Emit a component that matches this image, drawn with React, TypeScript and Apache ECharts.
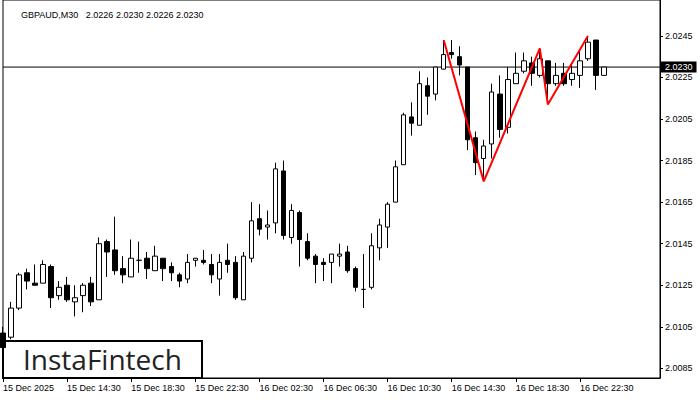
import React, { useEffect, useRef } from "react";
import * as echarts from "echarts";

const pad = (n: number) => String(n).padStart(2, "0");
// 30-minute bars starting 15 Dec 10:30 (76 bars plus 7 empty slots on the right)
const categories: string[] = [];
for (let i = 0; i < 83; i++) {
  const m = 10 * 60 + 30 + i * 30;
  const day = 15 + Math.floor(m / 1440);
  const mm = m % 1440;
  categories.push(`${day} Dec ${pad(Math.floor(mm / 60))}:${pad(mm % 60)}`);
}

const tickLabels = [
  "15 Dec 2025", "15 Dec 14:30", "15 Dec 18:30", "15 Dec 22:30", "16 Dec 02:30",
  "16 Dec 06:30", "16 Dec 10:30", "16 Dec 14:30", "16 Dec 18:30", "16 Dec 22:30",
];

const priceTicks = [2.0085, 2.0105, 2.0125, 2.0145, 2.0165, 2.0185, 2.0205, 2.0225, 2.0245];

const opens = [
  2.0102, 2.0100, 2.0114, 2.0131, 2.0126, 2.0126, 2.0134, 2.0120, 2.0125, 2.0117,
  2.0120, 2.0126, 2.0118, 2.0146, 2.0142, 2.0133, 2.0129, 2.0137, 2.0138, 2.0132,
  2.0138, 2.0134, 2.0130, 2.0128, 2.0137, 2.0137, 2.0135, 2.0128, 2.0137, 2.0136,
  2.0118, 2.0138, 2.0157, 2.0153, 2.0155, 2.0180, 2.0148, 2.0160, 2.0146, 2.0139,
  2.0136, 2.0136, 2.0139, 2.0141, 2.0133, 2.0123, 2.0124, 2.0143, 2.0153, 2.0165,
  2.0183, 2.0206, 2.0202, 2.0221, 2.0217, 2.0229, 2.0237, 2.0235, 2.0230, 2.0196,
  2.0186, 2.0193, 2.0217, 2.0201, 2.0222, 2.0228, 2.0232, 2.0226, 2.0233, 2.0222,
  2.0227, 2.0224, 2.0226, 2.0234, 2.0243, 2.0226,
];
const closes = [
  2.0095, 2.0114, 2.0130, 2.0127, 2.0125, 2.0135, 2.0119, 2.0124, 2.0118, 2.0119,
  2.0125, 2.0117, 2.0145, 2.0141, 2.0132, 2.0130, 2.0138, 2.0137, 2.0133, 2.0139,
  2.0133, 2.0131, 2.0127, 2.0136, 2.0138, 2.0136, 2.0130, 2.0136, 2.0135, 2.0119,
  2.0139, 2.0156, 2.0152, 2.0154, 2.0181, 2.0149, 2.0161, 2.0147, 2.0138, 2.0135,
  2.0135, 2.0140, 2.0140, 2.0132, 2.0124, 2.0123, 2.0144, 2.0154, 2.0164, 2.0182,
  2.0207, 2.0203, 2.0222, 2.0216, 2.0230, 2.0236, 2.0236, 2.0231, 2.0195, 2.0184,
  2.0192, 2.0218, 2.0200, 2.0224, 2.0227, 2.0233, 2.0227, 2.0234, 2.0222, 2.0226,
  2.0222, 2.0227, 2.0233, 2.0242, 2.0226, 2.0230,
];
const lows = [
  2.0093, 2.0099, 2.0113, 2.0123, 2.0125, 2.0126, 2.0114, 2.0118, 2.0117, 2.0110,
  2.0112, 2.0115, 2.0118, 2.0129, 2.0130, 2.0126, 2.0129, 2.0131, 2.0128, 2.0132,
  2.0127, 2.0127, 2.0124, 2.0126, 2.0134, 2.0135, 2.0126, 2.0120, 2.0131, 2.0118,
  2.0118, 2.0136, 2.0149, 2.0147, 2.0150, 2.0147, 2.0145, 2.0134, 2.0137, 2.0126,
  2.0127, 2.0126, 2.0134, 2.0131, 2.0122, 2.0114, 2.0123, 2.0137, 2.0143, 2.0165,
  2.0183, 2.0197, 2.0202, 2.0207, 2.0214, 2.0229, 2.0234, 2.0226, 2.0190, 2.0178,
  2.0176, 2.0186, 2.0196, 2.0198, 2.0222, 2.0227, 2.0221, 2.0225, 2.0214, 2.0221,
  2.0221, 2.0221, 2.0220, 2.0233, 2.0219, 2.0226,
];
const highs = [
  2.0105, 2.0117, 2.0131, 2.0133, 2.0135, 2.0137, 2.0135, 2.0127, 2.0129, 2.0125,
  2.0126, 2.0129, 2.0148, 2.0147, 2.0158, 2.0139, 2.0147, 2.0146, 2.0141, 2.0144,
  2.0138, 2.0136, 2.0131, 2.0140, 2.0138, 2.0142, 2.0140, 2.0140, 2.0145, 2.0139,
  2.0141, 2.0165, 2.0164, 2.0161, 2.0184, 2.0185, 2.0164, 2.0161, 2.0150, 2.0140,
  2.0138, 2.0140, 2.0145, 2.0144, 2.0134, 2.0140, 2.0150, 2.0157, 2.0165, 2.0185,
  2.0208, 2.0213, 2.0228, 2.0225, 2.0230, 2.0243, 2.0243, 2.0240, 2.0230, 2.0199,
  2.0195, 2.0222, 2.0226, 2.0230, 2.0237, 2.0237, 2.0235, 2.0239, 2.0233, 2.0232,
  2.0232, 2.0232, 2.0238, 2.0245, 2.0243, 2.0230,
];

const currentPrice = 2.023;
const patternIdx = [55, 60, 67, 68, 73];
const patternPrices = [2.0243, 2.0175, 2.0239, 2.0212, 2.0245];

const FONT = "Liberation Sans";

export default function App() {
  const ref = useRef<HTMLDivElement>(null);
  useEffect(() => {
    if (!ref.current) return;
    const chart = echarts.init(ref.current, null, { renderer: "svg" });
    const candles = opens.map((o, i) => [o, closes[i], lows[i], highs[i]]);
    chart.setOption({
      animation: false,
      backgroundColor: "#fff",
      title: {
        text: "GBPAUD,M30\u00a0\u00a0 2.0226 2.0230 2.0226 2.0230",
        left: 16,
        top: 5,
        textStyle: { fontFamily: FONT, fontSize: 9, fontWeight: "normal", color: "#000" },
      },
      grid: {
        left: 3,
        right: 40,
        top: -1,
        bottom: 22,
        show: true,
        borderColor: "#000",
        borderWidth: 1,
        backgroundColor: "#fff",
      },
      xAxis: {
        type: "category",
        data: categories,
        boundaryGap: false,
        axisLine: { show: true, lineStyle: { color: "#000", width: 1 } },
        axisTick: {
          show: true,
          length: 4,
          interval: (i: number) => i % 8 === 0 && i <= 72,
          lineStyle: { color: "#000" },
        },
        axisLabel: {
          interval: (i: number) => i % 8 === 0 && i <= 72,
          formatter: (_v: string, i: number) => tickLabels[i / 8] ?? "",
          align: "left",
          margin: 5,
          fontFamily: FONT,
          fontSize: 9,
          color: "#000",
        },
        splitLine: { show: false },
      },
      yAxis: {
        type: "value",
        position: "right",
        min: 2.008036,
        max: 2.026228,
        scale: true,
        axisLine: { show: true, lineStyle: { color: "#000", width: 1 } },
        axisTick: {
          show: true,
          length: 3,
          customValues: priceTicks,
          lineStyle: { color: "#000" },
        },
        axisLabel: {
          customValues: priceTicks,
          formatter: (v: number) => v.toFixed(4),
          margin: 5,
          fontFamily: FONT,
          fontSize: 9,
          color: "#000",
        },
        splitLine: { show: false },
      },
      series: [
        {
          type: "line",
          data: [
            [categories[0], currentPrice],
            [categories[categories.length - 1], currentPrice],
          ],
          symbol: "none",
          lineStyle: { color: "#000", width: 1 },
          silent: true,
          z: 1,
          endLabel: {
            show: true,
            distance: 1,
            formatter: () => currentPrice.toFixed(4),
            backgroundColor: "#000",
            color: "#fff",
            padding: [1, 4, 1, 4],
            fontFamily: FONT,
            fontSize: 9,
          },
        },
        {
          type: "candlestick",
          data: candles,
          barWidth: 5,
          clip: true,
          itemStyle: {
            color: "#fff",
            color0: "#000",
            borderColor: "#000",
            borderColor0: "#000",
            borderWidth: 1,
          },
          z: 2,
        },
        {
          type: "line",
          data: patternIdx.map((idx, k) => [categories[idx], patternPrices[k]]),
          symbol: "none",
          lineStyle: { color: "#ff0000", width: 2 },
          z: 5,
          silent: true,
        },
      ],
      graphic: [
        {
          type: "group",
          z: 100,
          children: [
            {
              type: "rect",
              shape: { x: 3, y: 341, width: 199, height: 37 },
              style: { fill: "#fff", stroke: "#000", lineWidth: 2 },
            },
            {
              type: "text",
              x: 23,
              y: 359,
              style: {
                text: "InstaFintech",
                font: "28px 'Open Sans'",
                fill: "#222",
                verticalAlign: "middle",
                textAlign: "left",
              },
            },
          ],
        },
      ],
    });
    return () => chart.dispose();
  }, []);
  return (
    <div
      ref={ref}
      style={{ position: "fixed", left: 0, top: 0, width: 700, height: 400, background: "#fff" }}
    />
  );
}
